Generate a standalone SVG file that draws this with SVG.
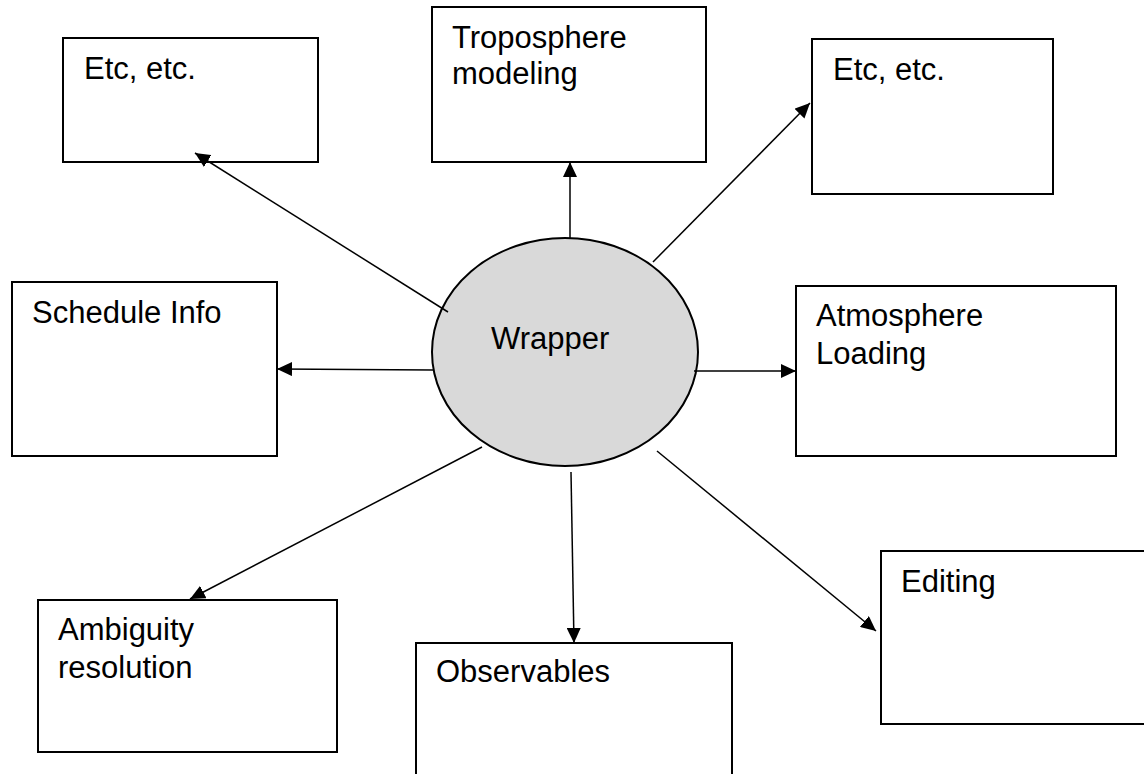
<svg xmlns="http://www.w3.org/2000/svg" width="1144" height="774" viewBox="0 0 1144 774">
<style>
.box{fill:#fff;stroke:#000;stroke-width:2}
.lbl{font-family:"Liberation Sans",Arial,sans-serif;font-size:31px;fill:#000}
.conn line{stroke:#000;stroke-width:1.5}
</style>
<defs>
<marker id="arr" markerUnits="userSpaceOnUse" markerWidth="16" markerHeight="14" refX="15" refY="7" orient="auto">
<path d="M0,0 L15,7 L0,14 z" fill="#000"/>
</marker>
</defs>
<rect width="1144" height="774" fill="#fff"/>
<g id="etc-left"><rect class="box" x="63" y="38" width="255" height="124"/><text class="lbl" x="84" y="79">Etc, etc.</text></g>
<g id="troposphere"><rect class="box" x="432" y="7" width="274" height="155"/><text class="lbl" x="452" y="48">Troposphere</text><text class="lbl" x="452" y="84">modeling</text></g>
<g id="etc-right"><rect class="box" x="812" y="39" width="241" height="155"/><text class="lbl" x="833" y="80">Etc, etc.</text></g>
<g id="schedule"><rect class="box" x="12" y="282" width="265" height="174"/><text class="lbl" x="32" y="323">Schedule Info</text></g>
<g id="atmosphere"><rect class="box" x="796" y="286" width="320" height="170"/><text class="lbl" x="816" y="326">Atmosphere</text><text class="lbl" x="816" y="364">Loading</text></g>
<g id="ambiguity"><rect class="box" x="38" y="600" width="299" height="152"/><text class="lbl" x="58" y="640">Ambiguity</text><text class="lbl" x="58" y="678">resolution</text></g>
<g id="observables"><rect class="box" x="416" y="643" width="316" height="150"/><text class="lbl" x="436" y="682">Observables</text></g>
<g id="editing"><rect class="box" x="881" y="551" width="280" height="173"/><text class="lbl" x="901" y="592">Editing</text></g>
<g id="wrapper"><ellipse cx="565" cy="352" rx="133" ry="114" fill="#d9d9d9" stroke="#000" stroke-width="2"/><text class="lbl" x="491" y="349">Wrapper</text></g>
<g id="connectors" class="conn">
<line x1="448" y1="312" x2="195" y2="153" marker-end="url(#arr)"/>
<line x1="570" y1="238" x2="570" y2="162" marker-end="url(#arr)"/>
<line x1="653" y1="262" x2="810" y2="103" marker-end="url(#arr)"/>
<line x1="433" y1="370" x2="277" y2="369" marker-end="url(#arr)"/>
<line x1="694" y1="371" x2="796" y2="371" marker-end="url(#arr)"/>
<line x1="482" y1="447" x2="190" y2="599" marker-end="url(#arr)"/>
<line x1="571" y1="472" x2="574" y2="643" marker-end="url(#arr)"/>
<line x1="657" y1="451" x2="876" y2="631" marker-end="url(#arr)"/>
</g>
</svg>
